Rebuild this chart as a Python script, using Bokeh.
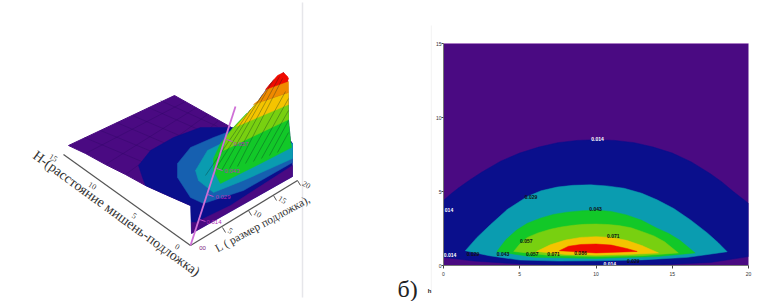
from bokeh.plotting import figure
from bokeh.layouts import row
from bokeh.models import Range1d, Span, FixedTicker
from bokeh.core.properties import value
from bokeh.embed import file_html
from bokeh.resources import INLINE

PURPLE = "#4a0a82"; BLUE = "#0a0f8c"; MIDBLUE = "#1660b0"; TEAL = "#0a9cb0"
GREEN = "#12c828"; LIME = "#78d010"; YELLOW = "#f4c400"; ORANGE = "#f08a00"; RED = "#f00a00"
SERIF = "Liberation Serif"; SANS = "Liberation Sans"

# ---- Right panel: contour bands, L (0-20) against h (0-15), outer to inner
blue_up_l = [0, 0.5, 1, 1.75, 2.5, 3.75, 5, 6.25, 7.5, 8.75, 10, 11.25, 12.5, 13.75, 15, 16.25, 17.5, 18.25, 19, 19.5, 20]
blue_up_h = [4.4, 4.85, 5.25, 5.8, 6.3, 7.05, 7.6, 8.0, 8.3, 8.45, 8.5, 8.45, 8.3, 8.0, 7.6, 7.0, 6.2, 5.65, 5.0, 4.6, 4.2]
blue_lo_l = [20, 17.5, 15, 12.5, 10, 7.5, 5, 2, 0]
blue_lo_h = [0.6, 0.2, 0.08, 0.04, 0.03, 0.04, 0.1, 0.3, 0.55]
teal_up_l = [1.43, 2.2, 3.07, 4.2, 5.5, 6.4, 7.46, 8.5, 9.65, 10.7, 11.84, 13, 14, 15.1, 16.2, 17.3, 18.0, 18.6]
teal_up_h = [1.0, 1.9, 2.75, 3.8, 4.66, 5.05, 5.3, 5.42, 5.45, 5.38, 5.22, 4.88, 4.44, 3.85, 3.08, 2.2, 1.55, 0.93]
teal_lo_l = [16, 13, 10, 7.5, 5, 3]
teal_lo_h = [0.55, 0.38, 0.32, 0.3, 0.37, 0.66]
green_up_l = [3.5, 4.1, 4.8, 5.5, 6.36, 7.2, 8.1, 9.1, 10.1, 11, 12, 13, 14, 14.8, 15.5, 16.5]
green_up_h = [0.95, 1.75, 2.4, 2.85, 3.2, 3.45, 3.6, 3.7, 3.74, 3.65, 3.42, 3.05, 2.52, 2.15, 1.7, 0.85]
green_lo_l = [14, 10, 6]
green_lo_h = [0.6, 0.48, 0.55]
lime_up_l = [4.6, 5, 5.5, 6.2, 7, 7.7, 8.5, 9.2, 10, 10.8, 11.5, 12.3, 13, 13.8, 14.5, 15.4]
lime_up_h = [0.95, 1.45, 1.9, 2.2, 2.45, 2.6, 2.72, 2.78, 2.8, 2.77, 2.7, 2.55, 2.3, 2.0, 1.6, 0.85]
lime_lo_l = [13, 10, 7]
lime_lo_h = [0.66, 0.6, 0.68]
yellow_up_l = [6.1, 7, 8, 9, 10, 11, 12, 13, 14.1]
yellow_up_h = [0.95, 1.4, 1.72, 1.9, 1.95, 1.9, 1.7, 1.35, 0.85]
yellow_lo_l = [12, 10, 8]
yellow_lo_h = [0.74, 0.7, 0.75]
red_up_l = [7.6, 8.2, 9, 10, 11, 12, 12.7]
red_up_h = [1.0, 1.3, 1.42, 1.45, 1.38, 1.15, 0.95]
red_lo_l = [10]
red_lo_h = [0.85]

contour_labels = ["0.014", "014", "0.014", "0.014", "0.029", "0.029", "0.043", "0.071",
                  "0.057", "0.029", "0.043", "0.057", "0.071", "0.086"]
contour_label_l = [10.1, 0.36, 0.43, 10.9, 12.45, 5.74, 9.97, 11.13, 5.43, 1.94, 3.9, 5.82, 7.22, 8.98]
contour_label_h = [8.58, 3.78, 0.68, 0.135, 0.29, 4.6, 3.85, 1.98, 1.64, 0.81, 0.81, 0.76, 0.81, 0.86]
contour_label_col = ["#ffffff"] * 4 + ["#101010"] * 10

x_ticks = [0, 5, 10, 15, 20]
y_ticks = [0, 5, 10, 15]

# ---- Left panel: the surface as drawn, in the picture's own projected units
plane_x = [68, 174, 231, 190, 165, 145, 125, 105, 85]
plane_y = [145, 95, 127, 205, 194, 185, 174, 164, 153]
plane_l_lines = [((85, 185), (153, 101)), ((105, 196), (164, 107)), ((125, 207), (174, 114)), ((145, 218), (185, 120))]
plane_h_lines = [((84, 146), (137, 163)), ((100, 161), (130, 155)), ((116, 177), (122, 148)), ((132, 193), (115, 141)), ((148, 207), (107, 133)), ((160, 217), (100, 126))]

base_x = [229, 200, 173, 150, 138, 142, 145, 165, 190, 191, 292, 292, 290, 288, 288, 287, 283, 270, 258, 247, 233]
base_y = [127, 127, 137, 150, 165, 177, 185, 194, 205, 233, 176, 143, 140, 120, 100, 80, 72, 83, 100, 113, 127]
mid_x = [229, 213, 190, 177, 177, 190, 203, 243, 292, 292]
mid_y = [131, 137, 147, 163, 177, 197, 203, 190, 162, 143]
teal_x = [229, 207, 195, 198, 213, 243, 292, 292]
teal_y = [139, 150, 170, 180, 192, 180, 158, 143]
green_x = [231, 220, 213, 213, 220, 260, 291, 290, 288, 288, 246]
green_y = [129, 143, 158, 170, 183, 163, 147, 140, 120, 112, 113]
lime_x = [233, 226, 223, 288, 288, 258, 245]
lime_y = [127, 136, 150, 119, 104, 100, 115]
yellow_x = [247, 241, 236, 288, 288, 256]
yellow_y = [113, 120, 126, 104, 92, 103]
orange_x = [258, 253, 288, 288, 270]
orange_y = [100, 104, 92, 81, 84]
red_x = [270, 265, 287, 288, 287, 283, 277]
red_y = [83, 89, 81, 78, 76, 72, 75]
wall_x = [191, 292, 292, 230, 195, 191]
wall_y = [233, 176, 165, 205, 222, 222]

ridge_x0 = [205, 213, 221, 229, 237, 245, 253, 261, 269, 277]
ridge_y0 = [175, 172, 170, 168, 166, 163, 161, 158, 155, 152]
ridge_x1 = [250, 262, 273, 279, 282, 285, 288, 288, 288, 288]
ridge_y1 = [109, 94, 79, 76, 78, 91, 98, 110, 120, 132]

h_axis_x = [190, 63]; h_axis_y = [245, 154]
l_axis_x = [190, 297]; l_axis_y = [245, 180]
z_axis_x = [190, 235]; z_axis_y = [245, 106]
h_tick_labels = ["15", "10", "5", "0"]
h_tick_lx = [53, 92, 134, 177]; h_tick_ly = [157, 185, 215, 246]
l_tick_labels = ["5", "10", "15", "20"]
l_tick_lx = [230, 257, 282, 306]; l_tick_ly = [230, 213, 199, 184]
l_tick_px = [222, 248, 273, 297]; l_tick_py = [227, 210, 195, 180]
z_tick_labels = ["0.014", "0.029", "0.043", "0.057"]
z_tick_lx = [206, 215, 224, 233]; z_tick_ly = [221, 196, 170, 143]
z_tick_px = [199, 207, 216, 226]; z_tick_py = [219, 194, 168, 139]

# ---- left figure
L = figure(width=432, height=301, output_backend="svg", toolbar_location=None, frame_align=False,
           x_range=Range1d(0, 432), y_range=Range1d(301, 0), min_border=0)
L.axis.visible = False; L.grid.visible = False; L.outline_line_color = None
L.background_fill_color = "#ffffff"; L.border_fill_color = "#ffffff"

L.line([302, 302], [2, 297], line_color="#e6e6ea", line_width=1.5)
L.line([431, 431], [25, 290], line_color="#f5f5f5", line_width=1.5)
L.patch(plane_x, plane_y, fill_color=PURPLE, line_color=PURPLE)
L.multi_line([list(a) for a, _ in plane_l_lines] + [list(a) for a, _ in plane_h_lines],
             [list(b) for _, b in plane_l_lines] + [list(b) for _, b in plane_h_lines],
             line_color="#2a0560", line_alpha=0.5, line_width=0.7)
for xs, ys, c in [(base_x, base_y, BLUE), (mid_x, mid_y, MIDBLUE), (teal_x, teal_y, TEAL), (green_x, green_y, GREEN),
                  (lime_x, lime_y, LIME), (yellow_x, yellow_y, YELLOW), (orange_x, orange_y, ORANGE),
                  (red_x, red_y, RED), (wall_x, wall_y, PURPLE)]:
    L.patch(xs, ys, fill_color=c, line_color=c, line_width=0.5)
L.segment(ridge_x0, ridge_y0, ridge_x1, ridge_y1, line_color="#0a2a20", line_alpha=0.42, line_width=0.8)

L.line(h_axis_x, h_axis_y, line_color="#555555", line_width=1.2)
L.line(l_axis_x, l_axis_y, line_color="#555555", line_width=1.2)
L.line(z_axis_x, z_axis_y, line_color="#cf6fd6", line_width=1.8)
L.segment(l_tick_px, l_tick_py, [v + 3 for v in l_tick_px], [v + 5 for v in l_tick_py], line_color="#555555")
L.segment(z_tick_px, z_tick_py, [v + 6 for v in z_tick_px], [v + 2 for v in z_tick_py], line_color="#c050c8")
L.text(h_tick_lx, h_tick_ly, text=h_tick_labels, text_font=value(SERIF), text_font_size="8px",
       text_align="center", text_baseline="middle", text_color="#333333", angle=-0.55)
L.text(l_tick_lx, l_tick_ly, text=l_tick_labels, text_font=value(SERIF), text_font_size="8px",
       text_align="center", text_baseline="middle", text_color="#333333", angle=-0.55)
L.text(z_tick_lx, z_tick_ly, text=z_tick_labels, text_font=value(SANS), text_font_size="6px",
       text_align="left", text_baseline="middle", text_color="#b030b8")
L.text([202], [247], text=["00"], text_font=value(SANS), text_font_size="6px",
       text_align="center", text_baseline="middle", text_color="#802080")
L.text([116], [213], text=["Н-(расстояние мишень-подложка)"], text_font=value(SERIF), text_font_size="14px",
       text_align="center", text_baseline="middle", text_color="#333333", angle=-0.63)
L.text([262], [223], text=["L ( размер подложка),"], text_font=value(SERIF), text_font_size="11.5px",
       text_align="center", text_baseline="middle", text_color="#333333", angle=0.5)
L.text([397], [288], text=["б)"], text_font=value(SERIF), text_font_size="24px",
       text_align="left", text_baseline="middle", text_color="#222222")
L.text([431], [290], text=["h"], text_font=value(SANS), text_font_size="6px", text_font_style="bold",
       text_align="right", text_baseline="middle", text_color="#222222")

# ---- right figure
R = figure(width=337, height=301, output_backend="svg", toolbar_location=None, frame_align=False,
           x_range=Range1d(0, 20), y_range=Range1d(0, 15),
           min_border_left=11, min_border_right=21, min_border_top=43, min_border_bottom=36)
R.grid.visible = False; R.outline_line_color = None
R.background_fill_color = PURPLE; R.border_fill_color = "#ffffff"
for ax, t, out, so in ((R.xaxis[0], x_ticks, 3, 3), (R.yaxis[0], y_ticks, 2, 0)):
    ax.ticker = FixedTicker(ticks=t)
    ax.minor_tick_line_color = None
    ax.major_tick_in = 0; ax.major_tick_out = out
    ax.major_tick_line_color = "#444444"; ax.axis_line_color = "#777777"
    ax.major_label_text_font = SANS; ax.major_label_text_font_size = "5px"
    ax.major_label_text_color = "#333333"; ax.major_label_standoff = so

bands = [(blue_up_l, blue_up_h, blue_lo_l, blue_lo_h, BLUE),
         (teal_up_l, teal_up_h, teal_lo_l, teal_lo_h, TEAL),
         (green_up_l, green_up_h, green_lo_l, green_lo_h, GREEN),
         (lime_up_l, lime_up_h, lime_lo_l, lime_lo_h, LIME),
         (yellow_up_l, yellow_up_h, yellow_lo_l, yellow_lo_h, YELLOW),
         (red_up_l, red_up_h, red_lo_l, red_lo_h, RED)]
for ul, uh, ll, lh, c in bands:
    R.patch(ul + ll, uh + lh, fill_color=c, line_color=c, line_width=0.5)
R.add_layout(Span(location=15, dimension="width", line_color="#b070c8", line_width=1))
R.text(contour_label_l, contour_label_h, text=contour_labels, text_color=contour_label_col,
       text_font=value(SANS), text_font_size="5px", text_font_style="bold",
       text_align="center", text_baseline="middle")

page = row(L, R)
open("out.html", "w").write(file_html(page, INLINE))
